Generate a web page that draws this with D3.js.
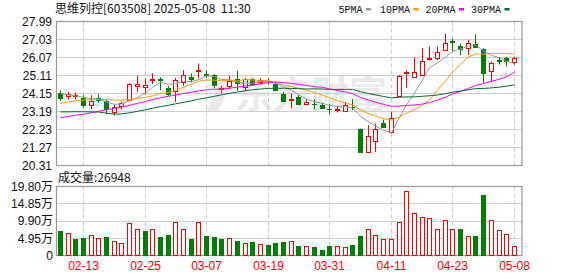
<!DOCTYPE html>
<html><head><meta charset="utf-8">
<script src="https://cdn.jsdelivr.net/npm/d3@7/dist/d3.min.js"></script>
<style>body{margin:0;background:#fff;} svg{display:block;}</style>
</head><body>
<svg id="chart" width="578" height="276"></svg>
<script>
const dates = ["02-10","02-11","02-12","02-13","02-14","02-17","02-18","02-19","02-20","02-21","02-24","02-25","02-26","02-27","02-28",
"03-03","03-04","03-05","03-06","03-07","03-10","03-11","03-12","03-13","03-14","03-17","03-18","03-19","03-20","03-21","03-24","03-25","03-26","03-27","03-28","03-31",
"04-01","04-02","04-03","04-07","04-08","04-09","04-10","04-11","04-14","04-15","04-16","04-17","04-18","04-21","04-22","04-23","04-24","04-25","04-28","04-29","04-30",
"05-06","05-07","05-08"];
const open = [24.20,24.01,24.06,23.90,23.51,23.92,23.76,23.17,23.44,23.79,24.54,24.50,24.88,24.93,24.45,24.27,24.77,25.02,25.36,25.20,25.16,24.40,24.56,24.95,24.45,24.90,24.74,24.83,24.63,24.15,23.83,23.98,23.57,23.60,23.55,23.34,23.32,23.22,23.41,22.28,21.04,21.63,22.55,22.05,24.06,25.28,25.04,25.12,26.02,26.03,26.46,26.95,26.68,26.53,26.79,26.50,25.30,25.92,26.05,25.84];
const high = [24.33,24.24,24.20,24.06,24.06,24.11,23.83,23.56,23.72,24.70,25.09,24.95,25.23,25.02,24.56,24.98,25.39,25.22,25.75,25.39,25.18,24.56,25.09,25.36,24.98,24.95,24.98,24.95,24.74,24.24,24.15,24.06,23.85,23.85,23.65,23.58,23.49,23.69,23.85,22.28,22.46,22.55,22.76,23.18,25.13,25.39,26.09,26.57,26.66,26.64,27.35,27.07,26.82,27.01,27.30,26.57,25.84,26.09,26.10,26.10];
const low = [23.76,23.83,23.83,23.40,23.31,23.65,23.05,22.98,23.31,23.79,24.24,24.10,24.65,24.33,24.02,23.70,24.56,24.74,24.95,24.98,24.42,24.15,24.38,24.29,24.29,24.56,24.63,24.63,24.27,23.70,23.35,23.53,23.53,23.30,23.35,23.03,23.14,23.18,23.26,21.04,21.00,21.02,22.32,22.02,24.06,24.47,25.01,25.12,25.90,25.93,26.46,26.39,26.19,26.22,26.64,24.70,24.77,25.69,25.59,25.69];
const close = [23.92,24.11,24.08,23.51,23.74,23.83,23.33,23.42,23.62,24.63,24.66,24.59,24.91,24.90,24.15,24.86,25.13,24.91,25.39,25.17,24.63,24.42,24.81,24.74,24.90,24.63,24.86,24.81,24.33,23.79,23.86,23.61,23.69,23.58,23.39,23.32,23.34,23.55,23.39,21.05,21.87,22.28,22.32,22.82,25.10,25.30,25.31,25.87,26.05,26.35,26.82,26.92,26.50,26.82,26.64,25.20,25.75,25.88,25.90,26.03];
const prevClose = 24.05;
// volume in shares
const volume = [69000,65000,46000,49000,60000,51000,54500,42000,37000,94000,76500,69000,76500,54500,60000,97000,76500,46000,97000,57000,52000,46000,51000,43000,37000,40000,32000,29000,37000,40000,
43000,26000,28000,23000,17000,26000,28000,25000,29000,57000,76500,59000,48000,48000,97000,184000,122500,111000,108000,76500,102000,76500,75000,56500,56500,175000,102000,74000,63000,26948];
const ma5 = [24.15,24.08,24.02,23.95,23.87,23.85,23.70,23.57,23.59,23.77,23.93,24.18,24.48,24.74,24.64,24.68,24.79,24.79,24.89,25.09,25.05,24.90,24.88,24.75,24.70,24.70,24.79,24.79,24.71,24.48,24.33,24.08,23.86,23.71,23.63,23.52,23.46,23.44,23.40,22.93,22.64,22.43,22.18,22.07,22.88,23.56,24.17,24.88,25.53,25.78,26.08,26.40,26.53,26.68,26.74,26.42,26.18,26.06,25.87,25.75];
const ma10 = [23.62,23.70,23.76,23.80,23.82,23.83,23.82,23.80,23.80,23.82,23.89,23.94,24.02,24.16,24.20,24.31,24.49,24.64,24.81,24.87,24.86,24.85,24.84,24.82,24.90,24.87,24.85,24.84,24.73,24.59,24.52,24.43,24.32,24.21,24.06,23.92,23.77,23.65,23.55,23.28,23.08,22.95,22.81,22.73,22.90,23.10,23.30,23.53,23.80,24.33,24.82,25.29,25.70,26.10,26.26,26.25,26.29,26.29,26.28,26.25];
const ma20 = [22.86,22.92,22.99,23.05,23.12,23.20,23.28,23.35,23.43,23.52,23.62,23.72,23.82,23.92,24.00,24.07,24.15,24.22,24.29,24.34,24.38,24.39,24.43,24.49,24.55,24.59,24.67,24.74,24.77,24.73,24.69,24.64,24.58,24.51,24.48,24.40,24.31,24.24,24.14,23.94,23.80,23.69,23.57,23.47,23.48,23.51,23.54,23.59,23.67,23.80,23.95,24.12,24.26,24.42,24.58,24.68,24.80,24.91,25.04,25.29];
const ma30 = [23.17,23.17,23.18,23.18,23.17,23.16,23.10,23.05,23.06,23.12,23.20,23.28,23.36,23.45,23.52,23.60,23.68,23.76,23.84,23.92,24.00,24.08,24.16,24.23,24.30,24.35,24.39,24.42,24.43,24.43,24.42,24.41,24.39,24.40,24.39,24.37,24.37,24.37,24.37,24.25,24.15,24.08,23.99,23.92,23.95,23.97,23.97,24.00,24.03,24.07,24.14,24.22,24.28,24.35,24.41,24.42,24.45,24.49,24.54,24.61];
const priceTicks = [20.31,21.27,22.23,23.19,24.15,25.11,26.07,27.03,27.99];
const volumeTicks = [0,49500,99000,148500,198000];
const volumeTickLabels = ["0","4.95万","9.90万","14.85万","19.80万"];
const dateTicks = ["02-13","02-25","03-07","03-19","03-31","04-11","04-23","05-08"];
const maNames = ["5PMA","10PMA","20PMA","30PMA"];
const titleText = "思维列控[603508] 2025-05-08  11:30";
const volumeLabel = "成交量:26948";
const watermark = "东方财富";

const RED = "#ff0000", GREEN = "#008000";
const maColors = ["#999999","#f5a300","#ff00ff","#006e2e"];
const L = 56, R = 522, PT = 21.5, PB = 165.5, VT = 186.5, VB = 255.5;

const svg = d3.select("#chart");
const x = d3.scaleBand().domain(dates).range([56, 517.8]).paddingInner(0).paddingOuter(0);
const cx = d => Math.round(x(d) + x.bandwidth()/2);
const y = d3.scaleLinear().domain([20.31, 27.99]).range([PB, PT]);
const yv = d3.scaleLinear().domain([0, 198000]).range([VB, VT]);

// watermark
svg.append("text").attr("x", 235).attr("y", 108).text(watermark)
  .attr("font-family","Noto Sans CJK SC").attr("font-size",38).attr("font-weight","bold")
  .attr("fill","#eaeaea");
svg.append("path").attr("d","M206,111 L222,78 L234,78 L218,111 Z").attr("fill","#eaeaea");

// gridlines
const grid = svg.append("g");
grid.selectAll(".hg").data(priceTicks).join("line")
  .attr("x1", L).attr("x2", R).attr("y1", d => Math.round(y(d)-0.5)+0.5).attr("y2", d => Math.round(y(d)-0.5)+0.5)
  .attr("stroke","#cfcfcf");
grid.selectAll(".vg").data(volumeTicks).join("line")
  .attr("x1", L).attr("x2", R).attr("y1", d => Math.round(yv(d)-0.5)+0.5).attr("y2", d => Math.round(yv(d)-0.5)+0.5)
  .attr("stroke","#cfcfcf");
[[PT,PB],[VT,VB]].forEach(([a,b]) => {
  grid.append("g").selectAll("line").data(dateTicks).join("line")
    .attr("x1", d => cx(d)+0.5).attr("x2", d => cx(d)+0.5).attr("y1", a).attr("y2", b)
    .attr("stroke","#cccccc").attr("stroke-dasharray","4,3");
});
// frames
svg.append("rect").attr("x",L+0.5).attr("y",PT).attr("width",R-L-0.5).attr("height",PB-PT).attr("fill","none").attr("stroke","#999").attr("stroke-width",1.2);
svg.append("rect").attr("x",L+0.5).attr("y",VT).attr("width",R-L-0.5).attr("height",VB-VT).attr("fill","none").attr("stroke","#999").attr("stroke-width",1.2);

// axes
const fontSans = "Liberation Sans, Arial, Noto Sans CJK SC";
const ax1 = svg.append("g").attr("transform",`translate(${L},0)`)
  .call(d3.axisLeft(y).tickValues(priceTicks).tickSize(0).tickPadding(4).tickFormat(d3.format(".2f")));
const ax2 = svg.append("g").attr("transform",`translate(${L},0)`)
  .call(d3.axisLeft(yv).tickValues(volumeTicks).tickSize(0).tickPadding(3).tickFormat((d,i) => volumeTickLabels[i]));
const ax3 = svg.append("g").attr("transform",`translate(0,${VB})`)
  .call(d3.axisBottom(x).tickValues(dateTicks).tickSize(0).tickPadding(6));
[ax1,ax2,ax3].forEach(a => { a.select(".domain").remove(); a.selectAll("text").attr("font-family",fontSans).attr("font-size",12).attr("fill","#111"); });
ax3.selectAll("text").attr("fill", RED);
ax3.selectAll(".tick").attr("transform", d => `translate(${cx(d)+0.5},0)`);

// candles
const idx = d3.range(dates.length);
const cg = svg.append("g");
idx.forEach(i => {
  const up = close[i] >= open[i];
  const c = cx(dates[i]);
  const col = up ? RED : GREEN;
  cg.append("line").attr("x1", c+0.5).attr("x2", c+0.5).attr("y1", y(high[i])).attr("y2", y(low[i])).attr("stroke", col);
  const top = y(Math.max(open[i], close[i])), bot = y(Math.min(open[i], close[i]));
  if (up) {
    cg.append("rect").attr("x", c-1.5).attr("width", 4).attr("y", Math.round(top)+0.5).attr("height", Math.max(1, Math.round(bot-top)))
      .attr("fill","#fff").attr("stroke", RED);
  } else {
    cg.append("rect").attr("x", c-2).attr("width", 5).attr("y", Math.round(top)).attr("height", Math.max(1, Math.round(bot-top)+1))
      .attr("fill", GREEN);
  }
});

// moving averages
[ma5, ma10, ma20, ma30].forEach((arr, k) => {
  svg.append("path").datum(arr)
    .attr("d", d3.line().x((d,i) => cx(dates[i])+0.5).y(d => y(d)))
    .attr("fill","none").attr("stroke", maColors[k]).attr("stroke-width",1);
});

// volume bars
const vg = svg.append("g");
idx.forEach(i => {
  const pc = i === 0 ? prevClose : close[i-1];
  const up = close[i] >= pc;
  const c = cx(dates[i]);
  const top = Math.round(yv(volume[i]));
  if (up) {
    vg.append("rect").attr("x", c-1.5).attr("width", 4).attr("y", top+0.5).attr("height", Math.round(VB) - top - 1)
      .attr("fill","#fff").attr("stroke", RED);
  } else {
    vg.append("rect").attr("x", c-2).attr("width", 5).attr("y", top).attr("height", Math.round(VB) - top)
      .attr("fill", GREEN);
  }
});

// title & labels
svg.append("text").attr("x", 55).attr("y", 13).text(titleText).style("white-space","pre")
  .attr("font-family","Noto Sans CJK SC, Liberation Sans").attr("font-size",12).attr("fill","#111");
svg.append("text").attr("x", 58).attr("y", 182).text(volumeLabel)
  .attr("font-family","Noto Sans CJK SC, Liberation Sans").attr("font-size",12).attr("fill","#111");

// legend
const legX = [338.5, 380, 425.5, 471];
maNames.forEach((n, k) => {
  svg.append("text").attr("x", legX[k]).attr("y", 13).text(n)
    .attr("font-family","Liberation Mono, monospace").attr("font-size",11.5)
    .attr("textLength", n.length*6).attr("lengthAdjust","spacingAndGlyphs").attr("fill","#111");
  svg.append("rect").attr("x", legX[k] + n.length*6 + 3.5).attr("y", 8).attr("width", 5).attr("height", 2.5).attr("fill", maColors[k]);
});
</script>
</body></html>
